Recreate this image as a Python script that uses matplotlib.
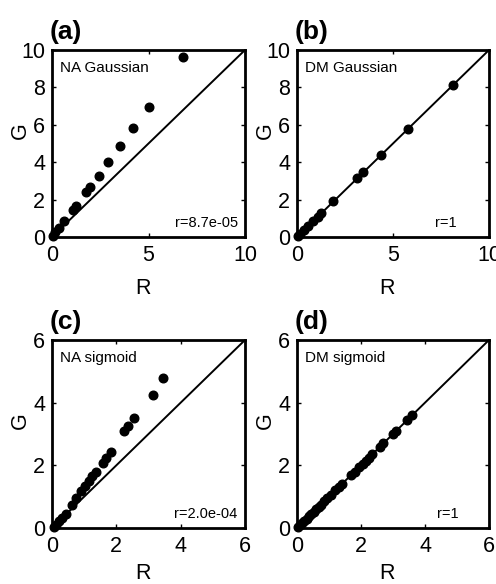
import matplotlib
matplotlib.use("Agg")
import matplotlib.pyplot as plt

plt.rcParams['font.family'] = ['Liberation Sans', 'DejaVu Sans']

# Panel data (R, G)
na_gauss_r = [6.8, 5.0, 4.19, 3.53, 2.88, 2.41, 1.95, 1.78, 1.26, 1.09, 0.64, 0.34, 0.17, 0.05]
na_gauss_g = [9.6, 6.94, 5.82, 4.84, 4.0, 3.24, 2.65, 2.38, 1.64, 1.46, 0.87, 0.48, 0.25, 0.07]

dm_gauss_r = [8.13, 5.8, 4.38, 3.46, 3.13, 1.9, 1.26, 1.09, 0.83, 0.57, 0.35, 0.14, 0.05]
dm_gauss_g = [8.13, 5.8, 4.38, 3.46, 3.13, 1.9, 1.26, 1.09, 0.83, 0.57, 0.35, 0.14, 0.05]

na_sig_r = [3.44, 3.15, 2.56, 2.35, 2.24, 1.83, 1.67, 1.57, 1.36, 1.25, 1.15, 1.04,
            0.89, 0.75, 0.61, 0.42, 0.31, 0.21, 0.13, 0.05]
na_sig_g = [4.78, 4.25, 3.5, 3.24, 3.08, 2.44, 2.23, 2.09, 1.8, 1.65, 1.49, 1.33,
            1.17, 0.96, 0.74, 0.46, 0.32, 0.21, 0.11, 0.03]

dm_sig_r = [3.6, 3.45, 3.1, 3.0, 2.7, 2.6, 2.35, 2.25, 2.15, 2.05, 1.95, 1.8, 1.7,
            1.4, 1.3, 1.2, 1.05, 0.95, 0.85, 0.75, 0.68, 0.6, 0.52, 0.45, 0.38,
            0.3, 0.22, 0.15, 0.08, 0.02]
dm_sig_g = dm_sig_r

panel_letters = ["(a)", "(b)", "(c)", "(d)"]
panel_names = ["NA Gaussian", "DM Gaussian", "NA sigmoid", "DM sigmoid"]
r_labels = ["r=8.7e-05", "r=1", "r=2.0e-04", "r=1"]
axis_max = [10, 10, 6, 6]
tick_sets = [[0, 5, 10], [0, 5, 10], [0, 2, 4, 6], [0, 2, 4, 6]]
ytick_sets = [[0, 2, 4, 6, 8, 10], [0, 2, 4, 6, 8, 10], [0, 2, 4, 6], [0, 2, 4, 6]]
r_xpos = [0.963, 0.833, 0.96, 0.84]
xlabel_y = [-0.22, -0.22, -0.185, -0.185]

data = [(na_gauss_r, na_gauss_g), (dm_gauss_r, dm_gauss_g),
        (na_sig_r, na_sig_g), (dm_sig_r, dm_sig_g)]

W, H = 496, 584
fig = plt.figure(figsize=(W / 100, H / 100), dpi=100)

# axes boxes in pixels: left, top, right, bottom
boxes = [(52, 50, 245, 237), (297, 50, 489, 237),
         (52, 340, 245, 528), (297, 340, 489, 528)]

for i, (l, t, r, b) in enumerate(boxes):
    ax = fig.add_axes([l / W, 1 - b / H, (r - l) / W, (b - t) / H])
    xs, ys = data[i]
    m = axis_max[i]
    ax.plot([0, m], [0, m], color='black', lw=1.4)
    ax.plot(xs, ys, 'o', color='black', ms=6.2, clip_on=False, zorder=3)
    ax.set_xlim(0, m)
    ax.set_ylim(0, m)
    ax.set_xticks(tick_sets[i])
    ax.set_yticks(ytick_sets[i])
    ax.tick_params(direction='in', top=True, right=True, length=3, width=1,
                   labelsize=15.5)
    ax.tick_params(axis='x', pad=6)
    ax.tick_params(axis='y', pad=5)
    for s in ax.spines.values():
        s.set_linewidth(2)
    ax.set_xlabel("R", fontsize=15.5)
    ax.set_ylabel("G", fontsize=15.5)
    ax.xaxis.set_label_coords(0.47, xlabel_y[i])
    ax.yaxis.set_label_coords(-0.11, 0.57)
    ax.text(0.04, 0.905, panel_names[i], transform=ax.transAxes,
            fontsize=11, va='center', ha='left')
    ax.text(r_xpos[i], 0.075, r_labels[i], transform=ax.transAxes,
            fontsize=10.5, va='center', ha='right')
    ax.text(-0.01, 1.03, panel_letters[i], transform=ax.transAxes,
            fontsize=19, fontweight='bold', va='bottom', ha='left')

fig.savefig("out.png", dpi=100)
